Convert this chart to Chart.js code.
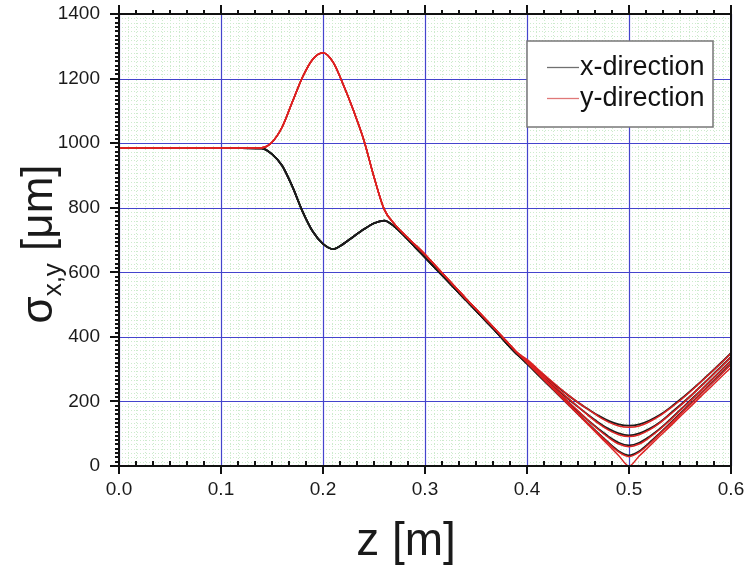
<!DOCTYPE html>
<html>
<head>
<meta charset="utf-8">
<script src="https://cdn.jsdelivr.net/npm/chart.js@4.4.1/dist/chart.umd.min.js"></script>
<style>
  html, body { margin: 0; padding: 0; background: #fff; }
  #wrap { width: 746px; height: 565px; position: relative; }
</style>
</head>
<body>
<div id="wrap"><canvas id="chart" width="746" height="565"></canvas></div>
<script>
// z positions (m) shared by all curves up to the waist region
const zCommon = [0, 0.04, 0.08, 0.12, 0.14, 0.15, 0.16, 0.17, 0.18, 0.19, 0.20, 0.21, 0.22, 0.23, 0.24,
  0.25, 0.26, 0.27, 0.28, 0.29, 0.30, 0.31, 0.32, 0.33, 0.34, 0.35, 0.36, 0.37, 0.38, 0.39];
const xCommon = [985, 985, 985, 985, 984, 966, 930, 865, 788, 726, 688, 672, 688, 711, 733,
  752, 760, 742, 712, 679, 646, 613, 580, 547, 514, 481, 448, 415, 380, 347];
const yCommon = [985, 985, 985, 985, 986, 1003, 1050, 1128, 1205, 1260, 1280, 1250, 1180, 1100, 1010,
  895, 795, 750, 716, 686, 655, 621, 587, 553, 519, 486, 453, 420, 386, 352];

// z positions around the waist, where the curves split
const zTail = [0.40, 0.41, 0.42, 0.43, 0.44, 0.45, 0.46, 0.47, 0.48, 0.49, 0.50,
  0.51, 0.52, 0.53, 0.54, 0.55, 0.56, 0.57, 0.58, 0.59, 0.60];
const xTails = [
  [326, 298, 271, 245, 220, 197, 176, 156, 140, 129, 125, 129, 141, 158, 180, 205, 232, 260, 289, 319, 350],
  [322, 293, 264, 236, 209, 183, 158, 135, 115, 101, 95, 101, 115, 135, 161, 188, 216, 246, 276, 307, 338],
  [318, 288, 258, 228, 198, 169, 141, 115, 91, 72, 64, 72, 91, 115, 143, 173, 203, 233, 264, 295, 326],
  [316, 285, 254, 223, 192, 161, 131, 101, 72, 46, 33, 46, 72, 101, 131, 162, 192, 223, 254, 285, 316],
];
const yTails = [
  [330, 302, 274, 247, 221, 197, 175, 154, 136, 124, 120, 124, 137, 155, 178, 203, 230, 259, 288, 318, 349],
  [327, 297, 268, 239, 211, 184, 157, 132, 111, 97, 91, 97, 112, 133, 159, 186, 215, 245, 275, 306, 337],
  [324, 293, 262, 231, 201, 171, 141, 113, 88, 68, 60, 68, 88, 113, 141, 171, 201, 232, 263, 294, 325],
  [321, 290, 258, 226, 194, 163, 131, 100, 70, 43, 29, 43, 69, 99, 129, 160, 190, 222, 253, 284, 315],
  [320, 288, 256, 224, 192, 160, 128, 96, 64, 32, 0, 31, 61, 92, 122, 153, 183, 214, 244, 275, 305],
];

const xMajorTicks = [0, 0.1, 0.2, 0.3, 0.4, 0.5, 0.6];
const yMajorTicks = [0, 200, 400, 600, 800, 1000, 1200, 1400];
const legendLabels = ['x-direction', 'y-direction'];

const FONT = "'Liberation Sans', Arial, sans-serif";
const BLACK = '#1c1c1c';
const RED = '#dc2222';

function toPoints(common, tail) {
  const pts = zCommon.map((z, i) => ({ x: z, y: common[i] }));
  return pts.concat(zTail.map((z, i) => ({ x: z, y: tail[i] })));
}

function lineDataset(label, data, color, width) {
  return {
    label,
    data,
    borderColor: color,
    borderWidth: width,
    pointRadius: 0,
    fill: false,
    cubicInterpolationMode: 'monotone',
  };
}

const datasets = [
  ...yTails.map((t) => lineDataset(legendLabels[1], toPoints(yCommon, t), RED, 1.5)),
  ...xTails.map((t) => lineDataset(legendLabels[0], toPoints(xCommon, t), BLACK, 1.8)),
];

function line(ctx, x1, y1, x2, y2) {
  ctx.beginPath();
  ctx.moveTo(x1, y1);
  ctx.lineTo(x2, y2);
  ctx.stroke();
}

// Origin-style background grid, drawn behind the curves
const gridPlugin = {
  id: 'originGrid',
  beforeDatasetsDraw(chart) {
    const { ctx, chartArea: a, scales: { x, y } } = chart;
    ctx.save();
    ctx.lineWidth = 1;
    ctx.strokeStyle = '#cdebcd';
    ctx.setLineDash([1, 2]);
    for (let i = 1; i < 72; i++) {
      if (i % 12 === 0) continue;
      const px = Math.round(x.getPixelForValue(i * 0.1 / 12)) + 0.5;
      line(ctx, px, a.top, px, a.bottom);
    }
    for (let j = 1; j < 105; j++) {
      if (j % 15 === 0) continue;
      const py = Math.round(y.getPixelForValue(j * 200 / 15)) + 0.5;
      line(ctx, a.left, py, a.right, py);
    }
    ctx.setLineDash([]);
    ctx.strokeStyle = '#4444cc';
    ctx.lineWidth = 1.2;
    xMajorTicks.forEach((v) => {
      const px = Math.round(x.getPixelForValue(v)) + 0.5;
      line(ctx, px, a.top, px, a.bottom);
    });
    yMajorTicks.forEach((v) => {
      const py = Math.round(y.getPixelForValue(v)) + 0.5;
      line(ctx, a.left, py, a.right, py);
    });
    ctx.restore();
  },
  afterDatasetsDraw(chart) {
    const { ctx, chartArea: a, scales: { x, y } } = chart;
    ctx.save();
    ctx.strokeStyle = '#111';
    ctx.lineWidth = 2;
    ctx.strokeRect(a.left, a.top, a.right - a.left, a.bottom - a.top);

    // x ticks: bottom minor inward, major outward; top all outward
    for (let i = 0; i <= 36; i++) {
      const px = Math.round(x.getPixelForValue(i * 0.1 / 6));
      if (i % 6 === 0) {
        line(ctx, px, a.bottom, px, a.bottom + 8);
        line(ctx, px, a.top, px, a.top - 9);
      } else {
        line(ctx, px, a.bottom, px, a.bottom - 5);
        line(ctx, px, a.top, px, a.top - 4);
      }
    }
    // y ticks on the left, outward
    for (let j = 0; j <= 105; j++) {
      const py = Math.round(y.getPixelForValue(j * 200 / 15));
      line(ctx, a.left, py, a.left - (j % 15 === 0 ? 9 : 4), py);
    }

    // axis titles
    ctx.fillStyle = '#1a1a1a';
    ctx.textBaseline = 'alphabetic';
    ctx.font = `46px ${FONT}`;
    ctx.textAlign = 'center';
    ctx.fillText('z [m]', 406, 555);

    ctx.translate(52, 244);
    ctx.rotate(-Math.PI / 2);
    ctx.textAlign = 'left';
    const big = `44px ${FONT}`;
    const small = `26px ${FONT}`;
    ctx.font = big;
    const wSig = ctx.measureText('σ').width;
    const wRest = ctx.measureText(' [μm]').width;
    ctx.font = small;
    const wSub = ctx.measureText('x,y').width;
    let cx = -(wSig + wSub + wRest) / 2;
    ctx.font = big;
    ctx.fillText('σ', cx, 0);
    cx += wSig;
    ctx.font = small;
    ctx.fillText('x,y', cx, 9);
    cx += wSub;
    ctx.font = big;
    ctx.fillText(' [μm]', cx, 0);
    ctx.restore();

    // legend box
    ctx.save();
    ctx.fillStyle = '#fff';
    ctx.fillRect(527, 41, 186, 86);
    ctx.strokeStyle = '#777';
    ctx.lineWidth = 1.5;
    ctx.strokeRect(527, 41, 186, 86);
    const legendColors = ['#707070', '#e07878'];
    ctx.font = `27px ${FONT}`;
    ctx.fillStyle = '#111';
    ctx.textBaseline = 'middle';
    legendLabels.forEach((label, k) => {
      const ly = 67 + k * 31;
      ctx.strokeStyle = legendColors[k];
      ctx.lineWidth = 1.3;
      line(ctx, 547, ly + 0.5, 579, ly + 0.5);
      ctx.fillText(label, 580, ly + 1);
    });
    ctx.restore();
  },
};

new Chart(document.getElementById('chart'), {
  type: 'line',
  data: { datasets },
  options: {
    responsive: false,
    animation: false,
    events: [],
    layout: { padding: { top: 14, right: 15, left: 0, bottom: 0 } },
    plugins: { legend: { display: false }, tooltip: { enabled: false } },
    scales: {
      x: {
        type: 'linear',
        min: 0,
        max: 0.6,
        grid: { display: false, drawTicks: false },
        border: { display: false },
        afterBuildTicks: (s) => { s.ticks = xMajorTicks.map((v) => ({ value: v })); },
        afterFit: (s) => { s.height = 99; s.paddingLeft = 0; s.paddingRight = 0; },
        ticks: {
          autoSkip: false,
          maxRotation: 0,
          padding: 12,
          color: '#1a1a1a',
          font: { family: FONT, size: 19 },
          callback: (v) => Number(v).toFixed(1),
        },
      },
      y: {
        min: 0,
        max: 1400,
        grid: { display: false, drawTicks: false },
        border: { display: false },
        afterBuildTicks: (s) => { s.ticks = yMajorTicks.map((v) => ({ value: v })); },
        afterFit: (s) => { s.width = 119; s.paddingTop = 0; s.paddingBottom = 0; },
        ticks: {
          padding: 19,
          color: '#1a1a1a',
          font: { family: FONT, size: 19 },
          callback: (v) => String(v),
        },
      },
    },
  },
  plugins: [gridPlugin],
});
</script>
</body>
</html>
